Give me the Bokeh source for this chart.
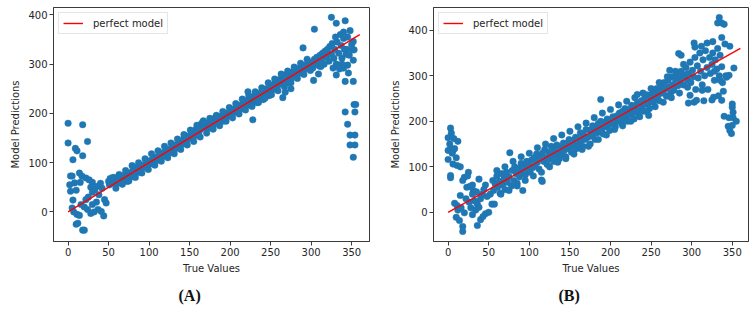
from bokeh.plotting import figure
from bokeh.layouts import row
from bokeh.models import FixedTicker, Range1d, Title
from bokeh.embed import file_html
from bokeh.resources import INLINE

# ---------------- Panel A data ----------------
a_true_left = [0, 18, 0, 24, 9, 11, 18, 6, 3, 5,
               14, 17, 22, 2, 8, 3, 10, 6, 11, 14,
               10, 12, 18, 20, 44, 41, 37, 20, 25, 28,
               22, 30, 33, 35, 38, 26, 30, 15, 7, 5,
               16, 24, 28, 32, 40, 42, 45, 47, 36, 30]
a_pred_left = [180, 177, 140, 143, 129, 124, 114, 106, 73, 73,
               79, 73, 69, 55, 59, 42, 44, 24, -5, -7,
               -25, -23, -37, -37, -8, 1, 5, 10, 30, 50,
               25, 40, 45, 20, 35, 65, 60, 60, 0, 8,
               15, 5, -3, 0, 58, 48, 25, 18, 52, 15]

a_true_band = [50, 51, 52, 53, 55, 56, 57, 58, 60, 61,
               62, 64, 65, 66, 68, 69, 70, 72, 73, 75,
               76, 78, 79, 80, 82, 83, 85, 86, 88, 89,
               90, 92, 93, 95, 96, 98, 99, 101, 102, 104,
               105, 107, 108, 110, 111, 113, 114, 116, 117, 119,
               120, 122, 123, 125, 126, 128, 129, 131, 132, 134,
               135, 137, 138, 140, 141, 143, 144, 146, 147, 149,
               150, 152, 153, 155, 156, 158, 159, 161, 162, 164,
               165, 166, 167, 169, 170, 172, 173, 175, 176, 178,
               179, 181, 182, 184, 185, 187, 188, 190, 191, 193,
               194, 196, 197, 199, 200, 202, 203, 205, 206, 208,
               209, 211, 212, 214, 215, 217, 218, 220, 221, 223,
               224, 226, 227, 229, 230, 232, 233, 235, 236, 238,
               239, 241, 242, 244, 245, 247, 248, 250, 251, 253,
               254, 256, 257, 259, 260, 262, 263, 265, 266, 268,
               269, 271, 272, 274, 275, 277, 278, 280, 281, 283,
               284, 286, 287, 289, 290, 292, 293, 295, 296, 298,
               299, 301, 302, 304, 305, 307, 308, 310, 311, 313,
               314, 316, 317, 319, 320, 322, 323, 325, 326, 328,
               329, 331, 332, 334, 335, 337, 338, 340, 341, 343]
a_pred_band = [62, 55, 68, 60, 65, 58, 70, 62, 66, 58,
               63, 70, 60, 66, 72, 64, 75, 68, 62, 78,
               70, 80, 72, 84, 76, 90, 85, 80, 92, 84,
               88, 95, 90, 96, 92, 100, 95, 104, 98, 106,
               100, 110, 104, 112, 106, 108, 118, 112, 120, 114,
               122, 118, 126, 120, 128, 124, 132, 126, 136, 130,
               132, 140, 134, 144, 138, 150, 142, 152, 146, 154,
               150, 158, 152, 160, 154, 168, 160, 172, 164, 178,
               170, 182, 176, 172, 180, 170, 178, 175, 186, 180,
               176, 190, 184, 180, 190, 186, 194, 188, 184, 196,
               190, 200, 194, 198, 204, 198, 206, 202, 210, 204,
               212, 206, 216, 210, 218, 212, 222, 216, 226, 218,
               228, 222, 232, 226, 236, 228, 222, 238, 230, 242,
               234, 228, 246, 238, 250, 242, 236, 254, 246, 258,
               250, 262, 256, 266, 258, 270, 262, 275, 268, 278,
               272, 262, 280, 274, 268, 284, 278, 288, 280, 284,
               290, 282, 294, 286, 296, 290, 298, 292, 302, 296,
               304, 298, 292, 310, 300, 314, 306, 296, 318, 310,
               322, 300, 326, 314, 330, 306, 336, 320, 342, 312,
               330, 300, 345, 322, 290, 338, 312, 352, 330, 320]

a_true_upper = [55, 63, 71, 79, 87, 95, 103, 111, 119, 127,
                135, 143, 151, 159, 167, 175, 183, 191, 199, 207,
                215, 223, 231, 239, 247, 255, 263, 271, 279, 287, 295]
a_pred_upper = [70, 76, 84, 94, 100, 108, 118, 124, 133, 140,
                148, 157, 166, 176, 185, 190, 196, 204, 212, 220,
                229, 236, 244, 252, 262, 270, 280, 286, 294, 302, 310]

a_true_lower = [59, 67, 75, 83, 91, 99, 107, 115, 123, 131,
                139, 147, 155, 163, 171, 179, 187, 195, 203, 211,
                219, 227, 235, 243, 251, 259, 267, 275, 283, 291, 299]
a_pred_lower = [48, 56, 63, 70, 79, 86, 95, 103, 110, 118,
                127, 136, 143, 152, 160, 168, 175, 184, 191, 199,
                207, 214, 222, 231, 238, 246, 254, 262, 271, 279, 287]

a_true_right = [228, 222, 265, 275, 268, 290, 304, 303, 325, 331,
                342, 352, 351, 353, 352, 345, 352, 342, 331, 346,
                340, 353, 355, 354, 342, 345, 348, 354, 348, 354,
                352, 336, 340, 345, 348, 350, 330, 320, 344, 347,
                338, 333, 327, 309, 312]
a_pred_right = [187, 244, 232, 250, 243, 333, 371, 267, 395, 383,
                388, 346, 329, 329, 308, 298, 265, 265, 278, 282,
                292, 218, 218, 203, 203, 178, 156, 156, 136, 136,
                111, 360, 365, 355, 368, 340, 355, 325, 330, 318,
                300, 296, 292, 280, 295]

# ---------------- Panel B data ----------------
b_true_left = [3, 4, 0, 7, 12, 0, 3, 6, 0, 6,
               11, 15, 3, 3, 20, 18, 25, 23, 27, 31,
               15, 11, 10, 14, 18, 18, 20, 36, 40, 43,
               46, 50, 54, 57, 36, 38, 38, 8, 12, 16,
               22, 26, 30, 33, 28, 35, 40, 44, 42, 48,
               5, 8, 2, 10, 24, 30, 46, 52, 34, 30]
b_pred_left = [185, 174, 164, 162, 156, 136, 140, 136, 116, 106,
               103, 100, 81, 76, 77, 70, 88, 55, 57, 48,
               37, 15, -11, -18, -31, -42, -1, -29, -16, -9,
               -3, 0, 18, 18, 18, 11, 73, 20, 5, 10,
               30, 22, 40, 25, 10, 45, 30, 50, 40, 35,
               130, 140, 150, 120, 80, 60, 60, 40, 5, -5]

b_true_band = [55, 56, 58, 60, 61, 63, 64, 66, 67, 69,
               70, 72, 73, 75, 76, 78, 79, 81, 82, 84,
               85, 87, 88, 90, 91, 92, 94, 95, 97, 98,
               100, 101, 103, 104, 106, 107, 109, 110, 112, 113,
               115, 116, 118, 119, 121, 122, 124, 125, 127, 128,
               130, 131, 133, 134, 136, 137, 139, 140, 142, 143,
               145, 146, 148, 149, 151, 152, 154, 155, 157, 158,
               160, 161, 163, 164, 166, 167, 169, 170, 172, 173,
               175, 176, 178, 179, 181, 182, 184, 185, 187, 188,
               190, 191, 193, 194, 196, 197, 199, 200, 202, 203,
               205, 206, 208, 209, 211, 212, 214, 215, 217, 218,
               220, 221, 223, 224, 226, 227, 229, 230, 232, 233,
               235, 236, 238, 239, 241, 242, 244, 245, 247, 248,
               250, 251, 253, 254, 256, 257, 259, 260, 262, 263,
               265, 266, 268, 269, 271, 272, 274, 275, 277, 278,
               280, 281, 283, 284, 286, 287, 289, 290, 292, 293,
               295, 296, 298, 299, 301, 302, 304, 305, 307, 308,
               310, 311, 313, 314, 316, 317, 319, 320, 322, 323,
               325, 326, 328, 329, 331, 332, 334, 335, 337, 338]
b_pred_band = [70, 48, 62, 80, 55, 68, 42, 85, 60, 75,
               50, 88, 66, 78, 131, 58, 92, 70, 100, 85,
               64, 96, 78, 108, 88, 48, 100, 82, 112, 95,
               104, 88, 115, 98, 120, 102, 128, 110, 95, 122,
               71, 130, 112, 138, 120, 105, 132, 118, 145, 126,
               112, 138, 125, 148, 130, 118, 142, 128, 152, 136,
               122, 150, 140, 160, 145, 132, 158, 148, 165, 140,
               162, 150, 175, 158, 145, 170, 160, 182, 165, 145,
               180, 168, 190, 172, 160, 185, 175, 195, 180, 200,
               185, 172, 198, 188, 205, 192, 180, 202, 195, 210,
               198, 188, 212, 200, 218, 205, 195, 222, 208, 228,
               212, 200, 225, 215, 235, 218, 205, 230, 220, 240,
               225, 210, 245, 232, 222, 250, 238, 258, 240, 228,
               252, 260, 242, 265, 250, 272, 258, 245, 270, 280,
               262, 285, 272, 255, 290, 276, 262, 298, 280, 268,
               292, 305, 278, 296, 285, 310, 298, 280, 302, 318,
               290, 305, 330, 285, 312, 298, 340, 270, 322, 295,
               350, 310, 280, 335, 300, 355, 318, 270, 340, 305,
               325, 350, 290, 335, 315, 360, 300, 345, 320, 285]

b_true_upper = [60, 70, 80, 90, 100, 110, 120, 130, 140, 150,
                160, 170, 180, 190, 200, 210, 220, 230, 240, 250,
                260, 270, 280, 290]
b_pred_upper = [92, 100, 112, 122, 130, 142, 150, 162, 170, 178,
                188, 196, 208, 218, 226, 236, 244, 252, 262, 272,
                285, 298, 310, 325]

b_true_lower = [65, 75, 85, 95, 105, 115, 125, 135, 145, 155,
                165, 175, 185, 195, 205, 215, 225, 235, 245, 255,
                265, 275, 285, 295]
b_pred_lower = [40, 48, 58, 70, 80, 88, 100, 110, 118, 128,
                138, 150, 160, 170, 182, 190, 200, 212, 222, 232,
                242, 252, 262, 275]

b_true_right = [188, 116, 233, 247, 334, 332, 337, 340, 337, 303,
                304, 284, 287, 319, 347, 352, 346, 343, 339, 337,
                333, 327, 325, 303, 306, 313, 335, 350, 350, 351,
                340, 346, 351, 345, 350, 347, 349, 298, 273, 326,
                312, 341, 328, 315, 296, 342, 355]
b_pred_right = [248, 68, 259, 213, 428, 416, 416, 413, 384, 372,
                363, 349, 345, 372, 365, 317, 301, 297, 266, 246,
                256, 253, 247, 242, 246, 268, 290, 238, 231, 220,
                211, 208, 208, 189, 191, 180, 173, 257, 312, 375,
                365, 370, 310, 245, 240, 300, 200]

# perfect-model reference line
line_x = [0, 360]
line_y = [0, 360]

x_ticks = [0, 50, 100, 150, 200, 250, 300, 350]
y_ticks = [0, 100, 200, 300, 400]

FONT = "DejaVu Sans"
DOT = "#1f77b4"


def panel(xr, yr, border_l, border_r, border_b, xs_list, ys_list, caption, cap_offset):
    p = figure(width=378, height=314, output_backend="svg", toolbar_location=None,
               x_range=Range1d(*xr), y_range=Range1d(*yr),
               min_border_left=border_l, min_border_right=border_r,
               min_border_top=7, min_border_bottom=border_b)
    p.grid.visible = False
    p.outline_line_color = "#3a3a3a"
    p.outline_line_width = 1
    p.background_fill_color = "white"
    p.border_fill_color = "white"
    for xs, ys in zip(xs_list, ys_list):
        p.scatter(xs, ys, size=6.6, fill_color=DOT, line_color=DOT, line_width=0.4)
    p.line(line_x, line_y, line_color="#ff0000", line_width=1.4, legend_label="perfect model")

    for ax in (p.xaxis[0], p.yaxis[0]):
        ax.axis_line_color = "#3a3a3a"
        ax.major_tick_line_color = "#3a3a3a"
        ax.major_tick_out = 4
        ax.major_tick_in = 0
        ax.minor_tick_line_color = None
        ax.major_label_text_font = FONT
        ax.major_label_text_font_size = "10px"
        ax.major_label_text_color = "#262626"
        ax.axis_label_text_font = FONT
        ax.axis_label_text_font_size = "10px"
        ax.axis_label_text_font_style = "normal"
        ax.axis_label_text_color = "#262626"
        ax.major_label_standoff = 2
        ax.axis_label_standoff = 4
    p.xaxis.ticker = FixedTicker(ticks=x_ticks)
    p.yaxis.ticker = FixedTicker(ticks=y_ticks)
    p.xaxis.axis_label = "True Values"
    p.yaxis.axis_label = "Model Predictions"

    lg = p.legend[0]
    lg.location = "top_left"
    lg.margin = 5
    lg.padding = 4
    lg.spacing = 0
    lg.label_text_font = FONT
    lg.label_text_font_size = "10px"
    lg.label_text_color = "#262626"
    lg.glyph_width = 20
    lg.glyph_height = 12
    lg.label_height = 12
    lg.label_standoff = 10
    lg.border_line_color = "#cccccc"
    lg.background_fill_alpha = 0.85

    p.add_layout(Title(text=caption, align="left", text_font="Liberation Serif",
                       text_font_size="16px", text_font_style="bold", text_color="#111111",
                       standoff=16, offset=cap_offset), "below")
    return p


pa = panel((-18, 372), (-60, 415), 53, 9, 71,
           [a_true_left, a_true_band, a_true_upper, a_true_lower, a_true_right],
           [a_pred_left, a_pred_band, a_pred_upper, a_pred_lower, a_pred_right],
           "(A)", 125)
pb = panel((-18, 370), (-64, 450), 55, 8, 73,
           [b_true_left, b_true_band, b_true_upper, b_true_lower, b_true_right],
           [b_pred_left, b_pred_band, b_pred_upper, b_pred_lower, b_pred_right],
           "(B)", 125)

layout = row(pa, pb)
open("out.html", "w").write(file_html(layout, INLINE))
